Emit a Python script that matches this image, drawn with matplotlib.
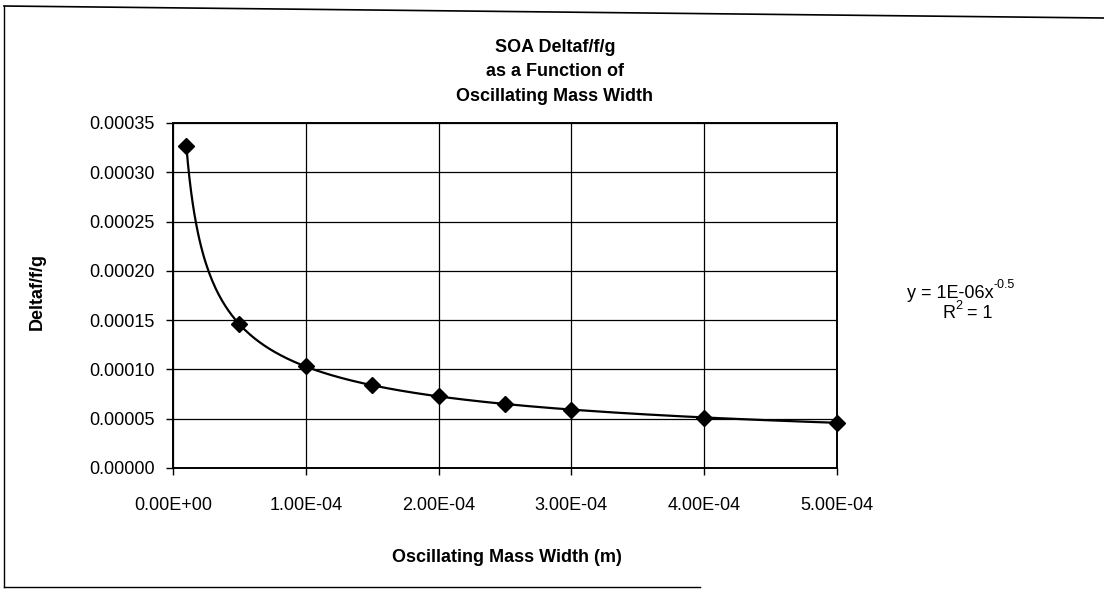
import numpy as np
import matplotlib
matplotlib.use("Agg")
import matplotlib.pyplot as plt
from matplotlib.lines import Line2D

# === Data ===
MASS_WIDTH = [1.0e-5, 5.0e-5, 1.0e-4, 1.5e-4, 2.0e-4, 2.5e-4, 3.0e-4, 4.0e-4, 5.0e-4]
DELTA_F = [3.27e-4, 1.46e-4, 1.03e-4, 8.4e-5, 7.3e-5, 6.5e-5, 5.9e-5, 5.1e-5, 4.6e-5]
X_TICKS = [0.0, 1e-4, 2e-4, 3e-4, 4e-4, 5e-4]
X_TICK_LABELS = ["0.00E+00", "1.00E-04", "2.00E-04", "3.00E-04", "4.00E-04", "5.00E-04"]
Y_TICKS = [0.0, 0.00005, 0.0001, 0.00015, 0.0002, 0.00025, 0.0003, 0.00035]
Y_TICK_LABELS = ["0.00000", "0.00005", "0.00010", "0.00015", "0.00020",
                 "0.00025", "0.00030", "0.00035"]

TITLE = "SOA Deltaf/f/g\nas a Function of\nOscillating Mass Width"
FONT = "Liberation Sans"

plt.rcParams["font.family"] = FONT

W, H = 1104, 595
fig = plt.figure(figsize=(W / 100, H / 100), dpi=100)
fig.patch.set_facecolor("white")

ax = fig.add_axes([173 / W, 1 - 468 / H, (837 - 173) / W, (468 - 123) / H])

# power trendline fitted from the points (like Excel's power trendline)
x = np.array(MASS_WIDTH)
y = np.array(DELTA_F)
b, log_a = np.polyfit(np.log(x), np.log(y), 1)
xs = np.linspace(x.min(), x.max(), 400)
ax.plot(xs, np.exp(log_a) * xs ** b, color="black", lw=1.6, zorder=3)
ax.plot(x, y, linestyle="none", marker="D", markersize=8,
        color="black", zorder=4, clip_on=False)

ax.set_xlim(0, 5e-4)
ax.set_ylim(0, 0.00035)
ax.set_xticks(X_TICKS)
ax.set_xticklabels(X_TICK_LABELS, fontsize=13)
ax.set_yticks(Y_TICKS)
ax.set_yticklabels(Y_TICK_LABELS, fontsize=13)
ax.tick_params(direction="out", length=5, width=1, color="black", pad=8)
ax.tick_params(axis="x", pad=16)
ax.grid(True, color="black", lw=0.9)
ax.set_axisbelow(True)
for s in ax.spines.values():
    s.set_linewidth(1.4)
    s.set_color("black")

# axis titles
fig.text(507 / W, 1 - 557 / H, "Oscillating Mass Width (m)", ha="center",
         va="center", fontsize=13, fontweight="bold")
fig.text(37 / W, 1 - 292 / H, "Deltaf/f/g", rotation=90, ha="center",
         va="center", fontsize=13, fontweight="bold")

# chart title
fig.text(555 / W, 1 - 72 / H, TITLE, ha="center", va="center", fontsize=13,
         fontweight="bold", linespacing=1.55)

# trendline equation (hyphen in exponent, as in the original)
eq = fig.text(907 / W, 1 - 293 / H, "y = 1E-06x", ha="left",
              va="center", fontsize=13)
ax.annotate("-0.5", xy=(1, 0.62), xycoords=eq, ha="left", va="bottom",
            fontsize=9)
r2 = fig.text(942 / W, 1 - 314 / H, "R", ha="left", va="center", fontsize=13)
sup = ax.annotate("2", xy=(1, 0.62), xycoords=r2, ha="left", va="bottom",
                  fontsize=9)
ax.annotate(" = 1", xy=(1, 0.5), xycoords=(sup, r2), ha="left", va="center",
            fontsize=13)

# chart border (scanned page, partly cut off)
fig.add_artist(Line2D([4 / W, 4 / W], [1 - 6 / H, 1 - 587 / H],
                      transform=fig.transFigure, color="black", lw=1))
fig.add_artist(Line2D([4 / W, 1.0], [1 - 6 / H, 1 - 18 / H],
                      transform=fig.transFigure, color="black", lw=1.2))
fig.add_artist(Line2D([4 / W, 700 / W], [1 - 587 / H, 1 - 587 / H],
                      transform=fig.transFigure, color="black", lw=1))

fig.savefig("out.png", dpi=100)
